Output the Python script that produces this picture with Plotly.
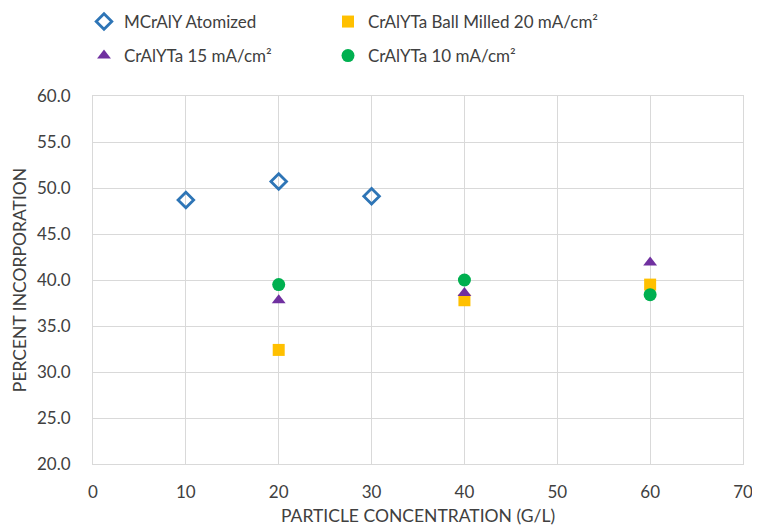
import plotly.graph_objects as go

x_atomized = [10, 20, 30]
y_atomized = [48.7, 50.7, 49.1]

x_ball = [20, 40, 60]
y_ball = [32.4, 37.8, 39.5]

x_15 = [20, 40, 60]
y_15 = [37.8, 38.6, 41.9]

x_10 = [20, 40, 60]
y_10 = [39.5, 40.0, 38.4]

names = ["MCrAlY Atomized", "CrAlYTa Ball Milled 20 mA/cm²",
         "CrAlYTa 15 mA/cm²", "CrAlYTa 10 mA/cm²"]

W, H = 752, 523

fig = go.Figure()
fig.add_trace(go.Scatter(x=x_atomized, y=y_atomized, mode="markers", name=names[0],
                         legend="legend",
                         marker=dict(symbol="diamond-open", size=12, color="#2E75B6",
                                     line=dict(width=2.8, color="#2E75B6"))))
fig.add_trace(go.Scatter(x=x_ball, y=y_ball, mode="markers", name=names[1],
                         legend="legend2",
                         marker=dict(symbol="square", size=12, color="#FFC000")))
fig.add_trace(go.Scatter(x=x_15, y=y_15, mode="markers", name=names[2],
                         legend="legend3",
                         marker=dict(symbol="triangle-up", size=12, color="#7030A0")))
fig.add_trace(go.Scatter(x=x_10, y=y_10, mode="markers", name=names[3],
                         legend="legend4",
                         marker=dict(symbol="circle", size=13, color="#00B050")))

font_fam = "Lato, Open Sans, sans-serif"
leg_common = dict(orientation="h", xref="container", yref="container",
                  xanchor="left", yanchor="middle",
                  font=dict(family=font_fam, size=17, color="#404040"),
                  bgcolor="rgba(0,0,0,0)")
col1_x, col2_x = 76 / W, 320 / W
row1_y, row2_y = 1 - 14 / H, 1 - 48 / H
fig.update_layout(
    width=W, height=H,
    margin=dict(l=85, r=17, t=88, b=67),
    plot_bgcolor="white", paper_bgcolor="white",
    font=dict(family=font_fam, size=17, color="#404040"),
    showlegend=True,
    legend=dict(x=col1_x, y=row1_y, **leg_common),
    legend2=dict(x=col2_x, y=row1_y, **leg_common),
    legend3=dict(x=col1_x, y=row2_y, **leg_common),
    legend4=dict(x=col2_x, y=row2_y, **leg_common),
    xaxis=dict(range=[0, 70], dtick=10, showgrid=True, gridcolor="#D9D9D9",
               zeroline=False, showline=True, linecolor="#D9D9D9", mirror=True,
               ticks="", automargin=False, tickfont=dict(size=17, color="#404040"),
               ticklabelstandoff=13,
               title=dict(text="PARTICLE CONCENTRATION (G/L)", font=dict(size=17.5, color="#404040"),
                          standoff=8)),
    yaxis=dict(range=[20, 60], dtick=5, tickformat=".1f", showgrid=True, gridcolor="#D9D9D9",
               zeroline=False, showline=True, linecolor="#D9D9D9", mirror=True,
               ticks="", automargin=False, tickfont=dict(size=17, color="#404040"),
               ticklabelstandoff=18,
               title=dict(text="PERCENT INCORPORATION", font=dict(size=17.5, color="#404040"),
                          standoff=5)),
)

fig.write_html("out.html")
